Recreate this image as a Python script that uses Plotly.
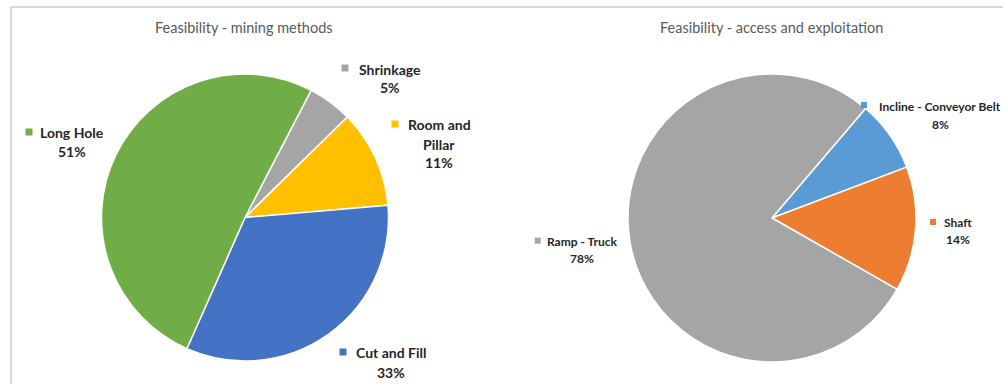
import plotly.graph_objects as go

W, H = 1003, 384

# ---- data ----
mining_labels = ["Shrinkage", "Room and Pillar", "Cut and Fill", "Long Hole"]
mining_values = [5, 11, 33, 51]
access_labels = ["Incline - Conveyor Belt", "Shaft", "Ramp - Truck"]
access_values = [8, 14, 78]

# ---- styles ----
mining_colors = ["#A5A5A5", "#FFC000", "#4472C4", "#70AD47"]
access_colors = ["#5B9BD5", "#ED7D31", "#A5A5A5"]
FONT = "Lato"
TITLE_COLOR = "#595959"
LABEL_COLOR = "#262626"


def px(x):
    return x / W


def py(y):
    return 1 - y / H


fig = go.Figure()
fig.add_trace(go.Pie(
    labels=mining_labels, values=mining_values, sort=False,
    direction="clockwise", rotation=27.5,
    marker=dict(colors=mining_colors, line=dict(color="white", width=1.5)),
    textinfo="none", showlegend=False,
    domain=dict(x=[px(101.5), px(388.5)], y=[py(361), py(74)]),
))
fig.add_trace(go.Pie(
    labels=access_labels, values=access_values, sort=False,
    direction="clockwise", rotation=40.5,
    marker=dict(colors=access_colors, line=dict(color="white", width=1.5)),
    textinfo="none", showlegend=False,
    domain=dict(x=[px(628), px(916)], y=[py(362), py(74)]),
))

annotations = []
shapes = []

# titles
for text, cx in [("Feasibility - mining methods", 244),
                 ("Feasibility - access and exploitation", 771)]:
    annotations.append(dict(text=text, x=px(cx), y=py(28), xref="paper", yref="paper",
                            xanchor="center", yanchor="middle", showarrow=False,
                            font=dict(family=FONT, size=14.5, color=TITLE_COLOR)))

# label layout: (text centre x, [line y...], pct y, square x, square y, square size, font size, name lines)
mining_pos = [
    (390, [69], 88, 345, 68, 7, 14, ["Shrinkage"]),
    (439, [125, 144], 162, 395, 124, 7, 14, ["Room and", "Pillar"]),
    (390.5, [352], 372, 343, 352, 7, 14, ["Cut and Fill"]),
    (72, [132], 152, 29, 132, 7, 14, ["Long Hole"]),
]
access_pos = [
    (940, [106], 124, 864, 105, 6, 12, ["Incline - Conveyor Belt"]),
    (958, [222], 239, 933, 222, 6, 12, ["Shaft"]),
    (582, [241], 258, 537.7, 240.7, 6, 12, ["Ramp - Truck"]),
]


def add_labels(values, colors, positions):
    total = sum(values)
    for v, c, (cx, ys, pyy, sx, sy, ss, fs, lines) in zip(values, colors, positions):
        for line, yy in zip(lines, ys):
            annotations.append(dict(text="<b>%s</b>" % line, x=px(cx), y=py(yy),
                                    xref="paper", yref="paper", xanchor="center",
                                    yanchor="middle", showarrow=False,
                                    font=dict(family=FONT, size=fs, color=LABEL_COLOR)))
        annotations.append(dict(text="<b>%d%%</b>" % round(v / total * 100), x=px(cx), y=py(pyy),
                                xref="paper", yref="paper", xanchor="center",
                                yanchor="middle", showarrow=False,
                                font=dict(family=FONT, size=fs, color=LABEL_COLOR)))
        shapes.append(dict(type="rect", xref="paper", yref="paper",
                           x0=px(sx - ss / 2), x1=px(sx + ss / 2),
                           y0=py(sy + ss / 2), y1=py(sy - ss / 2),
                           fillcolor=c, line=dict(width=0)))


add_labels(mining_values, mining_colors, mining_pos)
add_labels(access_values, access_colors, access_pos)

# frame
shapes.append(dict(type="line", xref="paper", yref="paper", x0=px(10), x1=1, y0=py(7), y1=py(7),
                   line=dict(color="#D9D9D9", width=2)))
shapes.append(dict(type="line", xref="paper", yref="paper", x0=px(11), x1=px(11), y0=0, y1=py(7),
                   line=dict(color="#D9D9D9", width=2)))

fig.update_layout(
    width=W, height=H,
    margin=dict(l=0, r=0, t=0, b=0),
    paper_bgcolor="white", plot_bgcolor="white",
    annotations=annotations, shapes=shapes,
    font=dict(family=FONT),
)

fig.write_html("out.html")
